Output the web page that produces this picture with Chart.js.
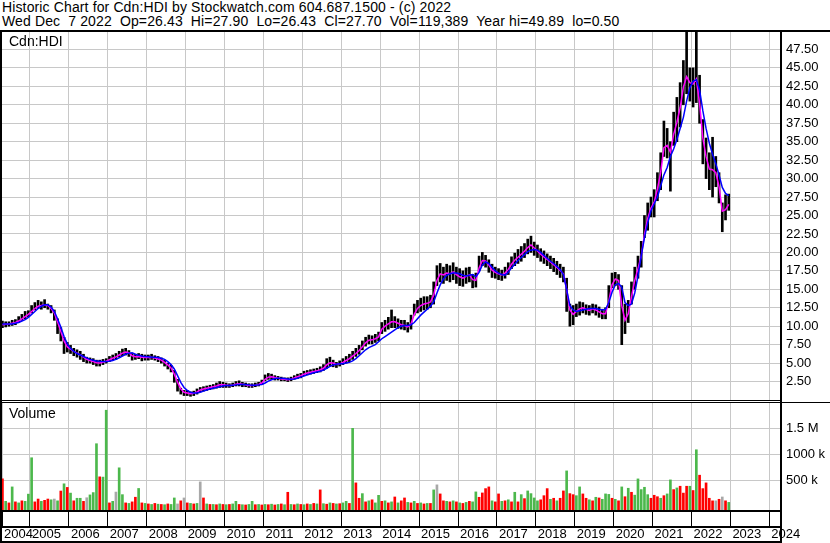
<!DOCTYPE html>
<html>
<head>
<meta charset="utf-8">
<script src="https://cdn.jsdelivr.net/npm/chart.js@4.4.1/dist/chart.umd.min.js"></script>
<style>
  html, body { margin: 0; padding: 0; background: #fff; }
  #wrap { position: relative; width: 830px; height: 543px; overflow: hidden; background: #fff; }
  .title { position: absolute; left: 2px; font-family: 'Liberation Sans', Arial, sans-serif; font-size: 14px; line-height: 14px; letter-spacing: 0.13px; color: #000; white-space: pre; }
  #t1 { top: 0px; }
  #t2 { top: 14px; }
  #priceChart { position: absolute; left: 0; top: 0; }
  #volChart { position: absolute; left: 0; top: 400px; }
</style>
</head>
<body>
<div id="wrap">
  <div class="title" id="t1">Historic Chart for Cdn:HDI by Stockwatch.com 604.687.1500 - (c) 2022</div>
  <div class="title" id="t2">Wed Dec  7 2022  Op=26.43  Hi=27.90  Lo=26.43  Cl=27.70  Vol=119,389  Year hi=49.89  lo=0.50</div>
  <canvas id="priceChart" width="830" height="403"></canvas>
  <canvas id="volChart" width="830" height="143"></canvas>
</div>
<script>
// monthly data, April 2004 .. December 2022
const startYear = 2004;
const startMonth = 3; // April

// axis range (fractional years) and ticks
const xMin = 2004.2804;
const xMax = 2024.275;
const yearTicks = [2005, 2006, 2007, 2008, 2009, 2010, 2011, 2012, 2013, 2014,
                   2015, 2016, 2017, 2018, 2019, 2020, 2021, 2022, 2023, 2024];
const priceTicks = [2.5, 5, 7.5, 10, 12.5, 15, 17.5, 20, 22.5, 25, 27.5, 30,
                    32.5, 35, 37.5, 40, 42.5, 45, 47.5];
const volTicks = [500, 1000, 1500];
const volTickLabels = ['500 k', '1000 k', '1.5 M'];

// monthly low / high
const lows = [
  9.8, 9.9, 10.0, 10.1, 10.2, 10.5, 10.8, 11.0, 11.3,
  11.8, 12.2, 12.4, 12.3, 12.5, 12.3, 11.8, 10.8, 9.0, 8.0, 6.3, 6.5,
  6.3, 6.0, 5.8, 5.5, 5.2, 5.0, 5.0, 4.8, 4.6, 4.6, 4.8, 5.0,
  5.2, 5.4, 5.5, 5.8, 6.0, 6.1, 5.9, 5.4, 5.5, 5.6, 5.3, 5.4,
  5.4, 5.5, 5.4, 5.2, 5.0, 4.6, 4.2, 3.8, 2.4, 1.2, 0.8, 0.6,
  0.6, 0.5, 0.6, 0.8, 1.1, 1.2, 1.3, 1.4, 1.5, 1.6, 1.7, 1.7,
  1.7, 1.7, 1.8, 1.9, 1.9, 1.8, 1.8, 1.7, 1.7, 1.8, 1.9, 2.1,
  2.6, 2.8, 2.8, 2.7, 2.7, 2.6, 2.6, 2.5, 2.6, 2.8, 2.9, 3.0,
  3.3, 3.4, 3.5, 3.6, 3.7, 3.8, 4.0, 4.3, 4.6, 4.5, 4.4, 4.6,
  4.8, 5.0, 5.2, 5.5, 5.9, 6.2, 6.8, 7.3, 7.6, 7.6, 7.8, 8.0,
  9.0, 9.3, 9.6, 9.8, 9.8, 9.7, 9.6, 9.5, 9.2, 9.6, 11.5, 11.8,
  12.0, 12.2, 12.3, 12.5, 13.0, 15.5, 16.0, 15.8, 16.2, 16.0, 16.3, 15.8,
  15.5, 15.4, 15.8, 16.0, 15.2, 15.3, 17.5, 18.2, 18.0, 17.3, 16.6, 16.5,
  16.3, 16.2, 16.5, 17.0, 17.8, 18.2, 18.5, 18.8, 19.3, 19.8, 20.0, 19.6,
  19.3, 18.8, 18.5, 18.2, 17.8, 17.4, 17.0, 16.6, 16.0, 12.0, 10.0, 10.2,
  11.3, 11.5, 11.8, 11.6, 11.5, 11.8, 11.5, 11.2, 11.0, 11.0, 12.5, 15.2,
  15.5, 15.0, 7.5, 9.0, 10.5, 13.0, 15.0, 16.5, 18.0, 22.0, 23.0, 24.8,
  24.8, 27.0, 28.5, 33.0, 32.8, 28.3, 34.5, 35.0, 37.0, 40.0, 41.5, 40.5,
  39.7, 40.3, 37.5, 32.0, 30.0, 28.5, 27.5, 28.9, 26.7, 22.8, 24.4, 25.7
];
const highs = [
  10.7, 10.6, 10.6, 10.8, 10.9, 11.3, 11.6, 12.0, 12.1,
  12.8, 13.2, 13.5, 13.3, 13.6, 13.0, 12.8, 12.2, 11.0, 9.8, 8.5, 7.8,
  7.4, 7.0, 6.8, 6.6, 6.2, 5.8, 5.7, 5.6, 5.4, 5.4, 5.5, 5.6,
  5.9, 6.1, 6.3, 6.6, 6.9, 7.0, 6.7, 6.3, 6.2, 6.3, 6.2, 6.1,
  6.1, 6.2, 6.0, 5.9, 5.7, 5.4, 5.0, 4.7, 4.0, 2.8, 1.6, 1.3,
  1.3, 1.1, 1.2, 1.5, 1.7, 1.8, 1.9, 2.0, 2.1, 2.3, 2.5, 2.4,
  2.3, 2.2, 2.3, 2.5, 2.6, 2.4, 2.3, 2.2, 2.2, 2.3, 2.4, 2.7,
  3.4, 3.6, 3.5, 3.3, 3.2, 3.1, 3.0, 3.0, 3.1, 3.3, 3.5, 3.6,
  3.9, 4.0, 4.1, 4.2, 4.3, 4.5, 4.8, 5.6, 5.8, 5.4, 5.1, 5.3,
  5.6, 5.9, 6.2, 6.6, 7.0, 7.4, 8.0, 8.5, 8.8, 8.7, 8.9, 9.2,
  10.5, 10.8, 11.2, 12.2, 11.3, 11.0, 10.8, 10.8, 10.5, 11.5, 13.0, 13.5,
  13.8, 14.0, 14.0, 14.2, 16.0, 18.2, 18.5, 18.0, 18.4, 18.2, 18.6, 18.0,
  17.8, 17.5, 17.9, 18.0, 17.0, 17.2, 19.5, 20.0, 19.6, 19.0, 18.4, 18.0,
  17.8, 17.6, 18.0, 18.6, 19.4, 19.9, 20.4, 20.8, 21.2, 21.8, 22.2, 21.4,
  21.0, 20.5, 20.2, 19.8, 19.5, 19.2, 18.8, 18.4, 18.0, 16.5, 13.0, 12.8,
  13.0, 13.3, 13.2, 12.9, 12.8, 13.0, 12.9, 12.6, 12.3, 12.5, 15.5, 17.2,
  17.3, 17.0, 15.5, 13.0, 13.5, 16.0, 18.0, 19.5, 21.5, 25.0, 26.7, 27.5,
  28.5, 30.8, 33.5, 37.8, 36.8, 35.0, 39.0, 41.0, 43.0, 46.0, 49.9, 45.0,
  45.0, 49.9, 44.0, 38.0, 35.5, 33.5, 35.6, 33.0, 30.8, 26.7, 27.8, 27.9
];

// short moving average (magenta)
const maShort = [
  10.2, 10.25, 10.3, 10.4, 10.5, 10.7, 11.0, 11.3, 11.6,
  12.0, 12.4, 12.7, 12.8, 12.9, 12.8, 12.4, 11.8, 10.6, 9.3, 8.0, 7.2,
  6.9, 6.6, 6.35, 6.1, 5.8, 5.5, 5.35, 5.2, 5.05, 5.0, 5.1, 5.25,
  5.45, 5.65, 5.85, 6.1, 6.35, 6.5, 6.4, 6.0, 5.85, 5.9, 5.8, 5.75,
  5.75, 5.8, 5.7, 5.55, 5.4, 5.1, 4.75, 4.35, 3.5, 2.4, 1.5, 1.05,
  0.95, 0.85, 0.9, 1.1, 1.35, 1.5, 1.6, 1.7, 1.8, 1.9, 2.05, 2.05,
  2.0, 1.95, 2.0, 2.15, 2.2, 2.15, 2.05, 1.95, 1.95, 2.0, 2.1, 2.3,
  2.8, 3.1, 3.15, 3.05, 2.95, 2.85, 2.8, 2.75, 2.8, 3.0, 3.15, 3.3,
  3.5, 3.65, 3.75, 3.85, 3.95, 4.1, 4.3, 4.75, 5.05, 5.0, 4.8, 4.9,
  5.1, 5.35, 5.6, 5.95, 6.3, 6.7, 7.2, 7.75, 8.1, 8.15, 8.3, 8.55,
  9.6, 10.0, 10.3, 10.6, 10.6, 10.4, 10.2, 10.1, 9.9, 10.3, 11.6, 12.4,
  12.8, 13.0, 13.1, 13.3, 14.2, 16.2, 17.1, 16.95, 17.2, 17.1, 17.35, 17.0,
  16.7, 16.5, 16.75, 16.95, 16.3, 16.2, 17.9, 18.9, 18.85, 18.3, 17.6, 17.3,
  17.1, 16.95, 17.2, 17.7, 18.4, 18.95, 19.35, 19.75, 20.15, 20.65, 21.0, 20.6,
  20.2, 19.75, 19.4, 19.05, 18.7, 18.35, 17.95, 17.55, 17.1, 15.0, 12.2, 11.6,
  12.0, 12.35, 12.5, 12.3, 12.15, 12.35, 12.2, 11.95, 11.7, 11.7, 13.4, 15.6,
  16.4, 16.2, 12.8, 10.8, 11.7, 14.0, 16.2, 17.8, 19.5, 22.4, 24.6, 26.0,
  26.8, 28.6, 30.8, 34.2, 34.5, 33.6, 36.0, 37.6, 39.6, 42.4, 43.8, 43.0,
  42.8, 43.5, 40.2, 35.5, 33.0, 31.3, 31.2, 30.8, 28.9, 25.6, 25.8, 26.5
];

// long moving average (blue)
const maLong = [
  10.3, 10.3, 10.3, 10.3, 10.4, 10.5, 10.7, 10.9, 11.2,
  11.6, 12.0, 12.4, 12.7, 12.9, 12.9, 12.6, 12.0, 11.0, 9.9, 8.6, 7.6,
  7.0, 6.6, 6.3, 6.1, 5.9, 5.7, 5.5, 5.4, 5.3, 5.25, 5.2, 5.2,
  5.25, 5.35, 5.5, 5.7, 5.95, 6.2, 6.35, 6.4, 6.2, 6.05, 5.95, 5.9,
  5.85, 5.8, 5.8, 5.75, 5.65, 5.5, 5.2, 4.8, 4.2, 3.3, 2.4, 1.7,
  1.3, 1.05, 0.95, 0.95, 1.05, 1.2, 1.35, 1.5, 1.6, 1.7, 1.8, 1.9,
  1.95, 1.95, 2.0, 2.05, 2.1, 2.1, 2.1, 2.05, 2.0, 2.0, 2.05, 2.1,
  2.3, 2.55, 2.75, 2.9, 2.95, 2.95, 2.9, 2.85, 2.8, 2.85, 2.95, 3.1,
  3.25, 3.4, 3.55, 3.7, 3.8, 3.9, 4.05, 4.3, 4.55, 4.75, 4.85, 4.9,
  4.9, 5.0, 5.1, 5.3, 5.6, 6.0, 6.4, 6.8, 7.1, 7.3, 7.5, 7.9,
  8.3, 8.6, 8.9, 9.2, 9.5, 9.8, 10.0, 10.1, 10.1, 10.2, 10.5, 11.0,
  11.5, 11.9, 12.3, 12.7, 13.3, 14.5, 15.6, 16.4, 16.9, 17.1, 17.2, 17.2,
  17.1, 16.9, 16.8, 16.9, 17.0, 16.7, 17.3, 18.3, 18.7, 18.5, 18.0, 17.5,
  17.2, 17.0, 16.9, 17.3, 17.9, 18.4, 18.9, 19.3, 19.7, 20.1, 20.3, 20.4,
  20.3, 20.0, 19.6, 19.2, 18.8, 18.5, 18.1, 17.7, 17.0, 15.0, 12.8, 12.2,
  12.0, 12.1, 12.2, 12.3, 12.4, 12.4, 12.4, 12.3, 12.2, 12.3, 13.2, 14.6,
  15.6, 15.8, 15.3, 13.2, 12.8, 13.0, 14.5, 16.8, 19.5, 22.0, 24.0, 25.6,
  26.6, 27.5, 29.0, 30.5, 31.5, 33.0, 34.0, 35.3, 36.8, 38.3, 40.5, 42.3,
  43.2, 43.4, 42.0, 39.2, 36.8, 34.8, 33.3, 32.0, 30.5, 28.8, 28.0, 27.7
];

// monthly volume, thousands of shares
const volumes = [
  525, 90, 60, 370, 80, 60, 100, 90, 230,
  935, 80, 135, 90, 110, 135, 120, 135, 100, 290, 430, 360,
  250, 100, 150, 150, 90, 160, 215, 260, 1207, 565, 560, 1856,
  60, 90, 270, 740, 220, 60, 50, 80, 170, 340, 60, 50,
  40, 30, 50, 35, 30, 25, 40, 30, 156, 40, 100, 156,
  60, 50, 40, 50, 467, 156, 40, 30, 30, 25, 40, 30,
  25, 30, 40, 90, 30, 25, 20, 30, 90, 25, 30, 20,
  30, 25, 35, 20, 30, 40, 25, 266, 30, 25, 40, 30,
  25, 40, 30, 50, 40, 312, 45, 35, 60, 50, 40, 45,
  60, 90, 50, 1505, 448, 150, 240, 80, 100, 120, 60, 207,
  90, 100, 60, 80, 175, 60, 100, 156, 70, 60, 90, 50,
  60, 40, 50, 50, 312, 410, 234, 100, 90, 80, 100, 80,
  60, 50, 70, 90, 80, 273, 169, 253, 337, 370, 100, 80,
  234, 90, 100, 120, 80, 266, 80, 220, 143, 292, 240, 156,
  100, 120, 200, 337, 130, 150, 100, 150, 292, 680, 240, 220,
  200, 370, 234, 150, 120, 100, 169, 156, 130, 234, 225, 150,
  130, 100, 370, 180, 344, 266, 210, 525, 318, 363, 220, 150,
  208, 180, 150, 200, 234, 506, 318, 350, 383, 250, 383, 383,
  300, 1090, 597, 337, 448, 150, 100, 100, 130, 175, 100, 70
];
// g = up (green), r = down (red), a = unchanged (grey)
const volDirection =
  'rgrgrgrgg' +
  'grrgrrgagrgr' + 'grggragggrgg' + 'rgaggrgrrgrg' + 'rgrgrgrggara' +
  'rgrgargrgrgr' + 'grggrgrggrgr' + 'grgrgrgrgrgr' + 'grgrgrgrgrgr' +
  'ggrgrrgrgrgg' + 'rgrgrgrrgrgr' + 'grgrgarrgrgr' + 'grgrggrrrrgr' +
  'rgrgrgrgrggg' + 'grrrgrgrrgrr' + 'ggrrgrgrgggr' + 'grgrgrgggggr' +
  'rrgrggrgrrrg' + 'rgrrrrrararg';

const FONT = "'Liberation Sans', Arial, sans-serif";
const GRID = '#c8c8c8';
const VOL_MIN = -77.5;
const VOL_MAX = 1996;
const volColorMap = { g: '#4cb84c', r: '#ff0000', a: '#a8a8a8' };

const monthX = lows.map((_, i) => startYear + (startMonth + i + 0.5) / 12);

function fixWidth(w) {
  return function (scale) { scale.width = w; scale.paddingTop = 0; scale.paddingBottom = 0; };
}
function fixHeight(h) {
  return function (scale) { scale.height = h; scale.paddingLeft = 0; scale.paddingRight = 0; };
}

const priceFrame = {
  id: 'priceFrame',
  afterDraw(chart) {
    const ctx = chart.ctx;
    ctx.save();
    ctx.fillStyle = '#000';
    ctx.fillRect(0, 30, 830, 2);
    ctx.fillRect(0, 30, 2, 373);
    ctx.fillRect(780, 30, 2, 373);
    ctx.fillRect(0, 400, 782, 1);
    ctx.fillRect(0, 402, 830, 1);
    ctx.font = '14px ' + FONT;
    ctx.fillText('Cdn:HDI', 9, 46);
    ctx.restore();
  }
};

const volFrame = {
  id: 'volFrame',
  afterDraw(chart) {
    const ctx = chart.ctx;
    ctx.save();
    ctx.fillStyle = '#000';
    ctx.fillRect(0, 0, 2, 143);
    ctx.fillRect(780, 0, 2, 143);
    ctx.fillRect(0, 110, 782, 2);
    ctx.fillRect(0, 126, 782, 2);
    ctx.fillRect(0, 141, 782, 2);
    ctx.font = '14px ' + FONT;
    ctx.fillText('Volume', 9, 18);
    ctx.restore();
  }
};

new Chart(document.getElementById('priceChart'), {
  type: 'bar',
  data: {
    datasets: [
      {
        type: 'line', label: 'long average', order: 1,
        data: monthX.map((x, i) => ({ x: x, y: maLong[i] })),
        borderColor: '#0000ff', borderWidth: 1.5, pointRadius: 0, tension: 0
      },
      {
        type: 'line', label: 'short average', order: 2,
        data: monthX.map((x, i) => ({ x: x, y: maShort[i] })),
        borderColor: '#ff00ff', borderWidth: 1.5, pointRadius: 0, tension: 0
      },
      {
        type: 'bar', label: 'range', order: 3,
        data: monthX.map((x, i) => ({ x: x, y: [lows[i], highs[i]] })),
        backgroundColor: '#000', barThickness: 2
      }
    ]
  },
  options: {
    responsive: false,
    animation: false,
    layout: { padding: { left: 2, top: 31, right: 0, bottom: 3 } },
    plugins: { legend: { display: false }, tooltip: { enabled: false } },
    scales: {
      x: {
        type: 'linear', min: xMin, max: xMax, offset: false,
        afterBuildTicks: s => { s.ticks = yearTicks.map(v => ({ value: v })); },
        ticks: { display: false },
        grid: { color: GRID, drawTicks: false, offset: false },
        border: { display: false },
        afterFit: fixHeight(0)
      },
      y: {
        position: 'right', min: 0, max: 50,
        afterBuildTicks: s => { s.ticks = priceTicks.map(v => ({ value: v })); },
        ticks: { callback: v => Number(v).toFixed(2), color: '#000', font: { family: FONT, size: 13 }, padding: 6 },
        grid: { color: GRID, drawTicks: false },
        border: { display: false },
        afterFit: fixWidth(50)
      }
    }
  },
  plugins: [priceFrame]
});

new Chart(document.getElementById('volChart'), {
  type: 'bar',
  data: {
    datasets: [{
      label: 'Volume',
      data: monthX.map((x, i) => ({ x: x, y: volumes[i] })),
      backgroundColor: monthX.map((_, i) => volColorMap[volDirection[i]]),
      barThickness: 2,
      base: VOL_MIN
    }]
  },
  options: {
    responsive: false,
    animation: false,
    layout: { padding: { left: 2, top: 3, right: 0, bottom: 0 } },
    plugins: { legend: { display: false }, tooltip: { enabled: false } },
    scales: {
      x: {
        type: 'linear', min: xMin, max: xMax, offset: false,
        afterBuildTicks: s => { s.ticks = [xMin].concat(yearTicks).map(v => ({ value: v })); },
        ticks: {
          callback: v => String(Math.floor(v)), color: '#000', font: { family: FONT, size: 13 },
          align: 'start', labelOffset: 2, padding: 1, autoSkip: false, maxRotation: 0
        },
        grid: { color: GRID, tickColor: '#000', tickLength: 16, offset: false },
        border: { display: false },
        afterFit: fixHeight(33)
      },
      y: {
        position: 'right', min: VOL_MIN, max: VOL_MAX,
        afterBuildTicks: s => { s.ticks = volTicks.map(v => ({ value: v })); },
        ticks: {
          callback: (v, i) => volTickLabels[i], color: '#000', font: { family: FONT, size: 13 }, padding: 6
        },
        grid: { color: GRID, drawTicks: false },
        border: { display: false },
        afterFit: fixWidth(50)
      }
    }
  },
  plugins: [volFrame]
});
</script>
</body>
</html>
